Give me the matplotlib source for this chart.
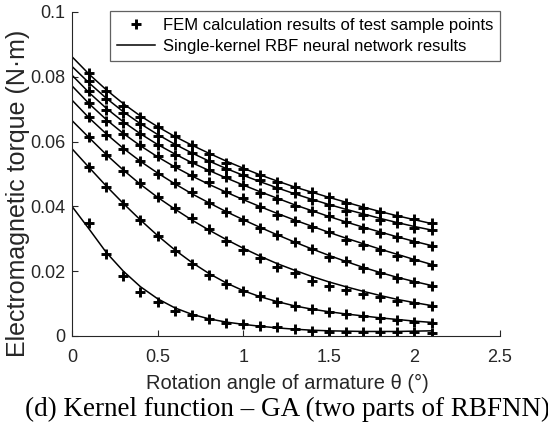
"""Torque vs rotation angle: FEM test points vs single-kernel RBF network curves."""

import matplotlib

matplotlib.use("Agg")
import matplotlib.pyplot as plt
import numpy as np

plt.rcParams["font.family"] = ["Liberation Sans", "DejaVu Sans"]

# FEM test sample points (theta = 0.1 .. 2.1 deg)
theta_pts = [0.1, 0.2, 0.3, 0.4, 0.5, 0.6, 0.7, 0.8, 0.9, 1.0, 1.1,
             1.2, 1.3, 1.4, 1.5, 1.6, 1.7, 1.8, 1.9, 2.0, 2.1]
fem_1 = [0.0813, 0.0757, 0.0709, 0.0677, 0.0645, 0.0617, 0.0589, 0.0563, 0.0533, 0.0515, 0.0497,
         0.0476, 0.0461, 0.0445, 0.0430, 0.0412, 0.0394, 0.0384, 0.0370, 0.0360, 0.0348]
fem_2 = [0.0787, 0.0730, 0.0687, 0.0654, 0.0618, 0.0589, 0.0566, 0.0540, 0.0515, 0.0497, 0.0480,
         0.0456, 0.0440, 0.0420, 0.0404, 0.0386, 0.0373, 0.0358, 0.0348, 0.0334, 0.0327]
fem_3 = [0.0757, 0.0699, 0.0657, 0.0625, 0.0591, 0.0560, 0.0536, 0.0512, 0.0490, 0.0467, 0.0440,
         0.0424, 0.0402, 0.0386, 0.0370, 0.0353, 0.0334, 0.0319, 0.0305, 0.0291, 0.0278]
fem_4 = [0.0719, 0.0665, 0.0624, 0.0591, 0.0556, 0.0525, 0.0497, 0.0474, 0.0445, 0.0425, 0.0399,
         0.0375, 0.0355, 0.0337, 0.0322, 0.0296, 0.0281, 0.0265, 0.0247, 0.0235, 0.0219]
fem_5 = [0.0677, 0.0620, 0.0578, 0.0541, 0.0500, 0.0473, 0.0443, 0.0410, 0.0384, 0.0358, 0.0334,
         0.0312, 0.0291, 0.0268, 0.0245, 0.0231, 0.0211, 0.0193, 0.0178, 0.0168, 0.0155]
fem_6 = [0.0615, 0.0558, 0.0509, 0.0473, 0.0430, 0.0394, 0.0363, 0.0329, 0.0294, 0.0265, 0.0241,
         0.0214, 0.0193, 0.0171, 0.0154, 0.0142, 0.0130, 0.0121, 0.0108, 0.0101, 0.0094]
fem_7 = [0.0522, 0.0461, 0.0406, 0.0358, 0.0309, 0.0263, 0.0222, 0.0188, 0.0160, 0.0138, 0.0122,
         0.0106, 0.0093, 0.0082, 0.0073, 0.0068, 0.0063, 0.0057, 0.0049, 0.0044, 0.0041]
fem_8 = [0.0350, 0.0252, 0.0185, 0.0137, 0.0104, 0.0078, 0.0065, 0.0052, 0.0041, 0.0037, 0.0030,
         0.0027, 0.0021, 0.0016, 0.0013, 0.0013, 0.0011, 0.0011, 0.0011, 0.0012, 0.0010]

# RBF network output (theta = 0 .. 2.1 deg)
theta_line = [0.0, 0.1, 0.2, 0.3, 0.4, 0.5, 0.6, 0.7, 0.8, 0.9, 1.0, 1.1,
              1.2, 1.3, 1.4, 1.5, 1.6, 1.7, 1.8, 1.9, 2.0, 2.1]
rbf_1 = [0.0862, 0.0808, 0.0760, 0.0717, 0.0679, 0.0646, 0.0616, 0.0589, 0.0564, 0.0540, 0.0518,
         0.0497, 0.0478, 0.0460, 0.0444, 0.0428, 0.0413, 0.0398, 0.0384, 0.0371, 0.0359, 0.0347]
rbf_2 = [0.0832, 0.0781, 0.0734, 0.0692, 0.0655, 0.0622, 0.0592, 0.0565, 0.0540, 0.0517, 0.0496,
         0.0476, 0.0457, 0.0439, 0.0422, 0.0406, 0.0391, 0.0377, 0.0363, 0.0350, 0.0338, 0.0327]
rbf_3 = [0.0805, 0.0751, 0.0703, 0.0661, 0.0624, 0.0591, 0.0562, 0.0535, 0.0511, 0.0488, 0.0466,
         0.0445, 0.0425, 0.0405, 0.0387, 0.0369, 0.0352, 0.0336, 0.0321, 0.0306, 0.0292, 0.0279]
rbf_4 = [0.0772, 0.0717, 0.0668, 0.0625, 0.0587, 0.0553, 0.0522, 0.0494, 0.0468, 0.0444, 0.0421,
         0.0399, 0.0378, 0.0358, 0.0339, 0.0320, 0.0302, 0.0285, 0.0268, 0.0252, 0.0236, 0.0221]
rbf_5 = [0.0728, 0.0673, 0.0624, 0.0579, 0.0539, 0.0503, 0.0470, 0.0439, 0.0411, 0.0384, 0.0359,
         0.0335, 0.0312, 0.0290, 0.0269, 0.0249, 0.0230, 0.0212, 0.0196, 0.0181, 0.0168, 0.0156]
rbf_6 = [0.0665, 0.0612, 0.0560, 0.0512, 0.0468, 0.0428, 0.0392, 0.0358, 0.0327, 0.0298, 0.0271,
         0.0246, 0.0223, 0.0203, 0.0184, 0.0167, 0.0152, 0.0138, 0.0125, 0.0113, 0.0103, 0.0094]
rbf_7 = [0.0578, 0.0520, 0.0463, 0.0409, 0.0358, 0.0310, 0.0266, 0.0227, 0.0193, 0.0164, 0.0140,
         0.0121, 0.0106, 0.0093, 0.0083, 0.0075, 0.0068, 0.0062, 0.0056, 0.0051, 0.0046, 0.0042]
rbf_8 = [0.0400, 0.0330, 0.0258, 0.0200, 0.0152, 0.0115, 0.0087, 0.0067, 0.0053, 0.0043, 0.0036,
         0.0030, 0.0025, 0.0021, 0.0018, 0.0016, 0.0015, 0.0014, 0.0014, 0.0014, 0.0015, 0.0016]

fem_sets = [fem_1, fem_2, fem_3, fem_4, fem_5, fem_6, fem_7, fem_8]
rbf_sets = [rbf_1, rbf_2, rbf_3, rbf_4, rbf_5, rbf_6, rbf_7, rbf_8]

x_ticks = [0, 0.5, 1, 1.5, 2, 2.5]
x_tick_labels = ["0", "0.5", "1", "1.5", "2", "2.5"]
y_ticks = [0, 0.02, 0.04, 0.06, 0.08, 0.1]
y_tick_labels = ["0", "0.02", "0.04", "0.06", "0.08", "0.1"]

W, H = 548, 430
fig = plt.figure(figsize=(W / 100, H / 100), dpi=100)
ax = fig.add_axes([72 / W, 1 - 336 / H, 428 / W, 324 / H])

for i, (pts, line) in enumerate(zip(fem_sets, rbf_sets)):
    ax.plot(theta_pts, pts, linestyle="none", marker="+", markersize=7.5,
            markeredgewidth=2.1, color="black",
            label="FEM calculation results of test sample points" if i == 0 else None)
    ax.plot(theta_line, line, color="black", linewidth=1.1,
            label="Single-kernel RBF neural network results" if i == 0 else None)

ax.set_xlim(0, 2.5)
ax.set_ylim(0, 0.1)
ax.set_xticks(x_ticks)
ax.set_xticklabels(x_tick_labels)
ax.set_yticks(y_ticks)
ax.set_yticklabels(y_tick_labels)
ax.tick_params(direction="in", length=4, width=0.8, labelsize=13, colors="#262626")
ax.tick_params(axis="x", pad=9)
ax.tick_params(axis="y", pad=5)
for side in ("top", "right"):
    ax.spines[side].set_visible(False)
for side in ("left", "bottom"):
    ax.spines[side].set_linewidth(0.8)
    ax.spines[side].set_color("#262626")

# axis titles placed where the reference has them
fig.text(287 / W, 1 - 383 / H, "Rotation angle of armature θ (°)",
         fontsize=14.5, color="#262626", ha="center", va="center")
fig.text(18 / W, 1 - 193 / H, "Electromagnetic torque (N·m)",
         fontsize=18, color="#262626", ha="center", va="center", rotation=90)

leg = ax.legend(loc="upper right", bbox_to_anchor=(1.0, 1.003), borderaxespad=0,
                fontsize=12, frameon=True, fancybox=False, handlelength=2.3,
                handletextpad=0.45, borderpad=0.42, labelspacing=0.35)
leg.get_frame().set_edgecolor("#3a3a3a")
leg.get_frame().set_linewidth(0.9)

fig.text(287 / W, 1 - 409 / H, "(d) Kernel function – GA (two parts of RBFNN)",
         family=["Liberation Serif", "DejaVu Serif"], fontsize=19.5, ha="center", va="center")

fig.savefig("out.png", dpi=100)
